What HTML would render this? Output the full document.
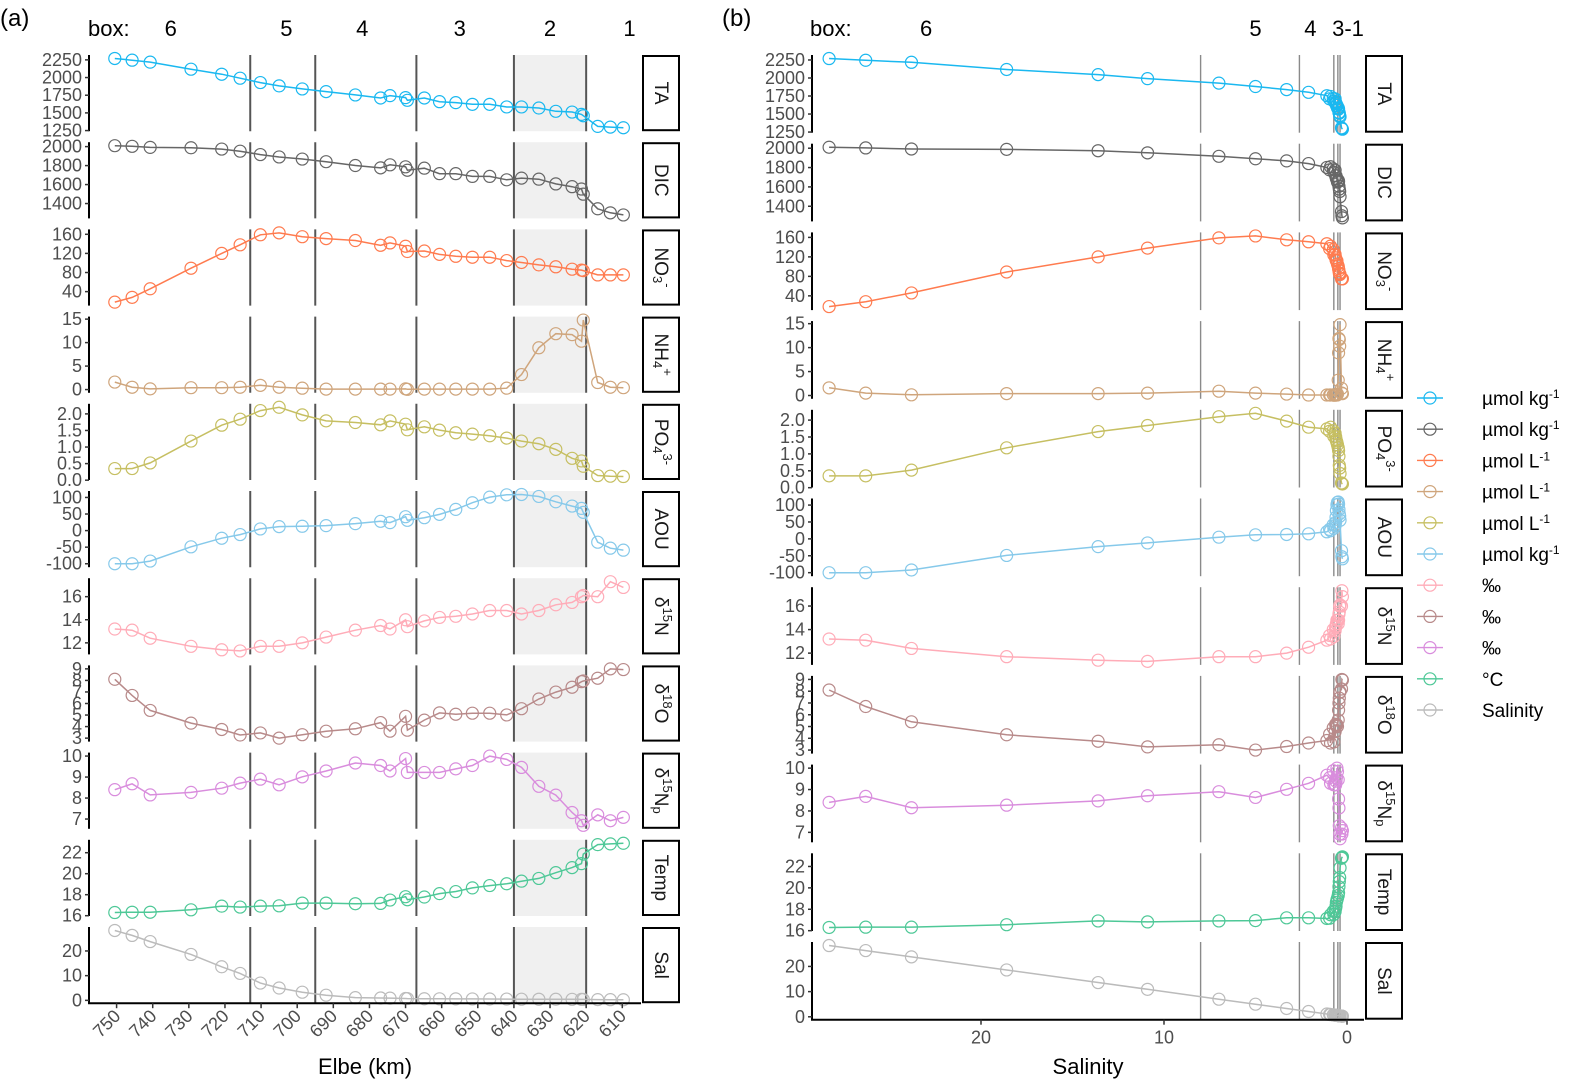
<!DOCTYPE html>
<html><head><meta charset="utf-8">
<style>
html,body{margin:0;padding:0;background:#fff;}
svg{display:block;font-family:"Liberation Sans",sans-serif;}
</style></head>
<body>
<svg id="chart" width="1586" height="1092" viewBox="0 0 1586 1092" xmlns="http://www.w3.org/2000/svg"></svg>
<script>
// ---- data (one entry per station) ----
const km   = [750.5,745.7,740.7,729.4,720.9,715.8,710.2,705,698.6,692,683.9,676.9,674.3,670,669.5,664.8,660.6,656.1,651.5,646.7,642,637.9,633.1,628.4,623.9,621.3,620.8,616.8,613.3,609.7];
const salinity = [28.3,26.3,23.8,18.6,13.6,10.9,7.0,5.0,3.3,2.1,1.1,0.95,0.9,0.75,0.72,0.65,0.62,0.6,0.58,0.55,0.52,0.48,0.46,0.44,0.42,0.4,0.38,0.3,0.28,0.25];
const taVals   = [2270,2246,2218,2118,2047,1991,1929,1882,1839,1801,1754,1711,1744,1716,1678,1711,1659,1645,1621,1621,1584,1584,1569,1522,1512,1479,1460,1309,1299,1290];
const dicVals  = [2010,2003,1992,1988,1974,1952,1916,1891,1869,1841,1801,1776,1808,1787,1751,1773,1715,1715,1686,1686,1650,1668,1657,1607,1578,1553,1499,1345,1302,1280];
const no3Vals  = [18,28,46,89,120,138,159,163,155,151,147,137,142,135,124,125,118,114,112,112,105,101,96,92,87,85,84,75,75,75];
const nh4Vals  = [1.6,0.5,0.15,0.4,0.4,0.5,0.9,0.5,0.3,0.1,0.1,0.1,0.1,0.15,0.05,0.1,0.1,0.1,0.1,0.1,0.3,3.2,8.9,11.9,11.7,10.3,14.8,1.5,0.5,0.4];
const po4Vals  = [0.35,0.35,0.52,1.18,1.66,1.84,2.1,2.2,1.97,1.79,1.74,1.67,1.79,1.69,1.52,1.61,1.51,1.43,1.39,1.34,1.27,1.18,1.1,0.93,0.66,0.58,0.42,0.14,0.12,0.11];
const aouVals  = [-100,-100,-92,-49,-23,-12,5,12,13,15,21,28,24,42,31,39,49,64,84,101,108,109,103,87,74,67,55,-35,-53,-59];
const d15nVals = [13.2,13.1,12.4,11.7,11.4,11.3,11.7,11.7,12.0,12.5,13.1,13.5,13.2,14.0,13.4,13.9,14.2,14.3,14.5,14.8,14.8,14.5,14.8,15.3,15.5,16.0,16.1,16.0,17.3,16.8];
const d18oVals = [8.1,6.7,5.4,4.3,3.75,3.27,3.45,3.0,3.3,3.6,3.81,4.35,3.6,4.89,3.69,4.56,5.19,5.07,5.16,5.16,5.01,5.55,6.39,6.99,7.41,7.89,7.95,8.19,9.0,8.94];
const d15npVals= [8.4,8.68,8.15,8.27,8.47,8.71,8.9,8.63,9.01,9.29,9.67,9.55,9.29,9.88,9.22,9.22,9.22,9.39,9.55,10.0,9.84,9.46,8.56,8.14,7.31,6.92,6.7,7.2,6.92,7.08];
const tempVals = [16.3,16.33,16.33,16.56,16.91,16.82,16.91,16.94,17.2,17.2,17.14,17.17,17.49,17.81,17.52,17.78,18.1,18.3,18.65,18.87,19.04,19.29,19.55,20.1,20.58,20.96,21.87,22.77,22.84,22.9];
const salVals  = salinity;
// tick labels
const taTicks=[1250,1500,1750,2000,2250], dicTicks=[1400,1600,1800,2000], no3Ticks=[40,80,120,160], nh4Ticks=[0,5,10,15];
const po4Ticks=[0,0.5,1,1.5,2], aouTicks=[-100,-50,0,50,100], d15nTicks=[12,14,16], d18oTicks=[3,4,5,6,7,8,9];
const d15npTicks=[7,8,9,10], tempTicks=[16,18,20,22], salTicks=[0,10,20];
const kmTicks=[750,740,730,720,710,700,690,680,670,660,650,640,630,620,610];
const salXTicks=[20,10,0];
const boxBoundsKm=[713,695,667,640,620];
const boxBoundsSal=[8.0,2.6,0.72,0.5,0.38];
const boxLabelsA=[["6",735],["5",703],["4",682],["3",655],["2",630],["1",608]];
const boxLabelsB=[["6",23],["5",5],["4",2],["3-1",0]];
const legendUnits=["µmol kg|-1","µmol kg|-1","µmol L|-1","µmol L|-1","µmol L|-1","µmol kg|-1","‰","‰","‰","°C","Salinity"];

const NS="http://www.w3.org/2000/svg";
const svg=document.getElementById('chart');
function mk(tag,attrs,parent){const e=document.createElementNS(NS,tag);for(const k in attrs)e.setAttribute(k,attrs[k]);(parent||svg).appendChild(e);return e;}

const vars=[
 {key:'ta',vals:taVals,ticks:taTicks,color:'#1ab8f0',strip:[['TA']],dec:0},
 {key:'dic',vals:dicVals,ticks:dicTicks,color:'#666666',strip:[['DIC']],dec:0},
 {key:'no3',vals:no3Vals,ticks:no3Ticks,color:'#ff7b4f',strip:[['NO'],['3','sub'],['-','sup']],dec:0},
 {key:'nh4',vals:nh4Vals,ticks:nh4Ticks,color:'#cfa57c',strip:[['NH'],['4','sub'],['+','sup']],dec:0},
 {key:'po4',vals:po4Vals,ticks:po4Ticks,color:'#c6bf62',strip:[['PO'],['4','sub'],['3-','sup']],dec:1},
 {key:'aou',vals:aouVals,ticks:aouTicks,color:'#86c9ea',strip:[['AOU']],dec:0},
 {key:'d15n',vals:d15nVals,ticks:d15nTicks,color:'#ffacb8',strip:[['δ'],['15','sup'],['N']],dec:0},
 {key:'d18o',vals:d18oVals,ticks:d18oTicks,color:'#b88a8a',strip:[['δ'],['18','sup'],['O']],dec:0},
 {key:'d15np',vals:d15npVals,ticks:d15npTicks,color:'#d98ddd',strip:[['δ'],['15','sup'],['N'],['p','sub']],dec:0},
 {key:'temp',vals:tempVals,ticks:tempTicks,color:'#4ec897',strip:[['Temp']],dec:0},
 {key:'sal',vals:salVals,ticks:salTicks,color:'#bbbbbb',strip:[['Sal']],dec:0}
];

function drawPanel(P){
  const g=mk('g',{});
  
  
  vars.forEach((v,i)=>{
    const top=P.top+i*(P.h+P.gap), bot=top+P.h;
    const mn=Math.min(...v.vals), mx=Math.max(...v.vals), ex=(mx-mn)*0.05;
    const y=val=>bot-(val-(mn-ex))/((mx+ex)-(mn-ex))*P.h;
    const pg=mk('g',{},g);
    
    
    if(P.shade){
      const r=mk('rect',{x:P.x(640),y:top,width:P.x(620)-P.x(640),height:P.h,fill:'#f0f0f0'},pg);
      
      
    }
    P.bounds.forEach(b=>{
      const l=mk('line',{x1:P.x(b),x2:P.x(b),y1:top,y2:bot,stroke:P.vcol,'stroke-width':P.vw},pg);
      
      
    });
    const ax=mk('line',{x1:P.left,x2:P.left,y1:top,y2:bot,stroke:'#000','stroke-width':2},pg);
    
    
    v.ticks.forEach(t=>{
      const yy=y(t);
      mk('line',{x1:P.left-4,x2:P.left,y1:yy,y2:yy,stroke:'#333','stroke-width':1.5},pg);
      const tx=mk('text',{x:P.left-7,y:yy+6,'text-anchor':'end','font-size':18,fill:'#4d4d4d'},pg);
      tx.textContent=v.dec?t.toFixed(1):String(t);
      
      
    });
    const idx=v.vals.map((_,k)=>k).sort((a,b)=>P.xv[a]-P.xv[b]);
    const pts=idx.map(k=>P.x(P.xv[k]).toFixed(1)+','+y(v.vals[k]).toFixed(1)).join(' ');
    const pl=mk('polyline',{points:pts,fill:'none',stroke:v.color,'stroke-width':1.5},pg);
    
    
    v.vals.forEach((val,k)=>{
      const c=mk('circle',{cx:P.x(P.xv[k]),cy:y(val),r:6,fill:'none',stroke:v.color,'stroke-width':1.2},pg);
      
      
    });
    const sr=mk('rect',{x:P.strip+1,y:top+1,width:36,height:P.h-2,fill:'#fff',stroke:'#000','stroke-width':2},pg);
    
    
    const cx=P.strip+19, cy=top+P.h/2;
    const st=mk('text',{x:cx,y:cy,'text-anchor':'middle','dominant-baseline':'central','font-size':19,fill:'#1a1a1a',transform:`rotate(90 ${cx} ${cy})`},pg);
    
    
    v.strip.forEach(([s,kind])=>{
      const ts=mk('tspan',{},st);
      if(kind){ts.setAttribute('font-size',13);ts.setAttribute('baseline-shift',kind==='sub'?'-30%':'50%');}
      ts.textContent=s;
    });
  });
  return g;
}

const xA=k=>116.6+(750-k)*3.612;
const PA={name:'panel-a',prefix:'a',top:55,h:76.2,gap:11,left:89,strip:642,x:xA,xv:km,bounds:boxBoundsKm,shade:true,vcol:'#555',vw:2};
drawPanel(PA);
const botA=55+10*87.2+76.2;
let l=mk('line',{x1:88,x2:641,y1:botA,y2:botA,stroke:'#000','stroke-width':2});


kmTicks.forEach(t=>{
  const xx=xA(t);
  mk('line',{x1:xx,x2:xx,y1:botA,y2:botA+5,stroke:'#333','stroke-width':1.5});
  const tx=mk('text',{x:xx+5,y:botA+14,'text-anchor':'end','font-size':18,fill:'#4d4d4d',transform:`rotate(-45 ${xx+5} ${botA+14})`});
  tx.textContent=t;
  
  
});
let t=mk('text',{x:365,y:1074,'text-anchor':'middle','font-size':22,fill:'#000'});t.textContent='Elbe (km)';



const xB=s=>1347-s*18.3;
const PB={name:'panel-b',prefix:'b',top:55,h:77.7,gap:11,left:812,strip:1365,x:xB,xv:salinity,bounds:boxBoundsSal,shade:false,vcol:'#8a8a8a',vw:1.4};
drawPanel(PB);
const botB=55+10*88.7+77.7;
l=mk('line',{x1:811,x2:1364,y1:botB,y2:botB,stroke:'#000','stroke-width':2});


salXTicks.forEach(s=>{
  const xx=xB(s);
  mk('line',{x1:xx,x2:xx,y1:botB,y2:botB+5,stroke:'#333','stroke-width':1.5});
  const tx=mk('text',{x:xx,y:botB+24,'text-anchor':'middle','font-size':18,fill:'#4d4d4d'});
  tx.textContent=s;
  
  
});
t=mk('text',{x:1088,y:1074,'text-anchor':'middle','font-size':22,fill:'#000'});t.textContent='Salinity';



function txt(x,y,s,size,name,anchor){const e=mk('text',{x:x,y:y,'font-size':size,fill:'#000','text-anchor':anchor||'start'});e.textContent=s;
  
  return e;}
txt(0,26,'(a)',24,'panel-a-tag');
txt(722,26,'(b)',24,'panel-b-tag');
txt(88,36,'box:',22,'box-title-a');
txt(810,36,'box:',22,'box-title-b');
boxLabelsA.forEach(([s,k])=>txt(xA(k),36,s,22,'box-label','middle'));
boxLabelsB.forEach(([s,v])=>txt(v===0?1348:xB(v),36,s,22,'box-label','middle'));

legendUnits.forEach((u,i)=>{
  const yy=398+i*31.2, col=vars[i].color;
  const g=mk('g',{});
  
  
  mk('line',{x1:1417,x2:1443,y1:yy,y2:yy,stroke:col,'stroke-width':1.4},g);
  mk('circle',{cx:1430,cy:yy,r:6,fill:'none',stroke:col,'stroke-width':1.2},g);
  const tx=mk('text',{x:1482,y:yy+7,'font-size':19,fill:'#000'},g);
  const parts=u.split('|');
  const a=mk('tspan',{},tx);a.textContent=parts[0];
  if(parts[1]){const b=mk('tspan',{'font-size':12,'baseline-shift':'60%'},tx);b.textContent=parts[1];}
});
</script>
</body></html>
